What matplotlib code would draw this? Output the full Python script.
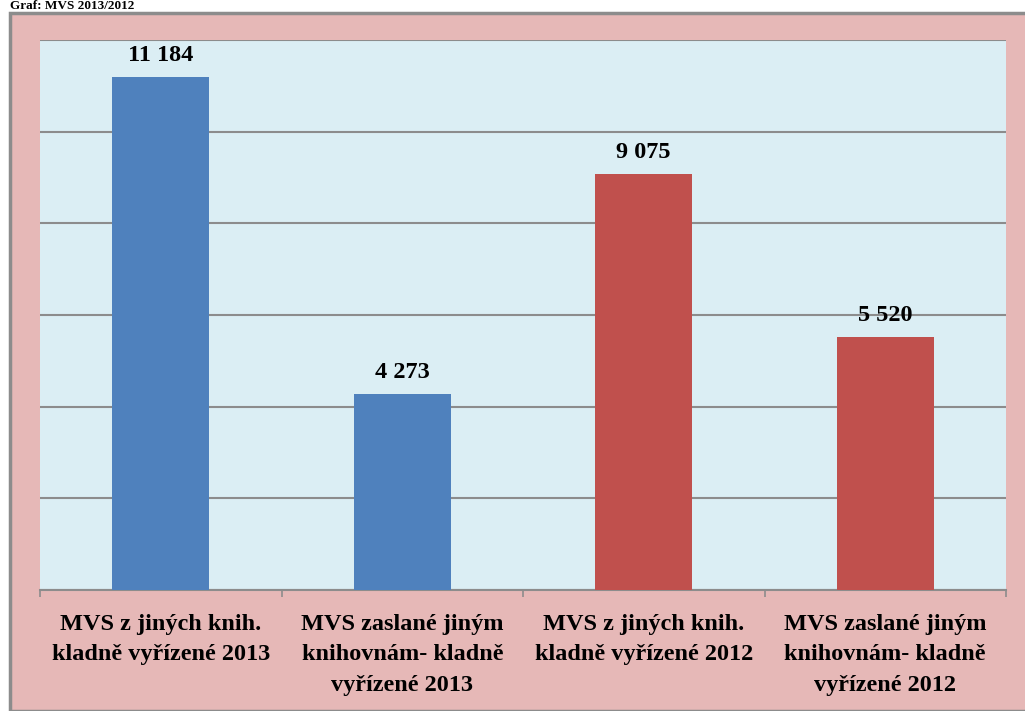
import numpy as np
import matplotlib.pyplot as plt
from matplotlib.patches import Rectangle

# data
kategorie = ['MVS z jiných knih.\nkladně vyřízené 2013',
             'MVS zaslané jiným\nknihovnám- kladně\nvyřízené 2013',
             'MVS z jiných knih.\nkladně vyřízené 2012',
             'MVS zaslané jiným\nknihovnám- kladně\nvyřízené 2012']
hodnoty = [11184, 4273, 9075, 5520]
barvy = ['#4f81bd', '#4f81bd', '#c0504d', '#c0504d']
popisky = ['11 184', '4 273', '9 075', '5 520']

plt.rcParams['font.family'] = ['Liberation Serif', 'DejaVu Serif']

fig = plt.figure(figsize=(10.25, 7.11), dpi=100)
fig.patch.set_facecolor('white')

# ruzovy ramecek grafu
fig.patches.append(Rectangle((10 / 1025, 0), 1.1, 1 - 13 / 711, transform=fig.transFigure,
                             facecolor='#e6b8b7', edgecolor='#8c8c8c', linewidth=2.5, zorder=-5))

fig.text(10 / 1025, 1.0, 'Graf: MVS 2013/2012', fontsize=9.5, fontweight='bold',
         ha='left', va='top')

ax = fig.add_axes([40 / 1025, 1 - 590 / 711, 966 / 1025, 550 / 711])
ax.set_facecolor('#dbeef4')

x = np.arange(len(hodnoty))
ax.bar(x, hodnoty, width=0.4, color=barvy, zorder=3)

for xi, h, t in zip(x, hodnoty, popisky):
    ax.text(xi, h + 250, t, ha='center', va='bottom', fontsize=17.5, fontweight='bold')

ax.set_xlim(-0.5, len(hodnoty) - 0.5)
ax.set_ylim(0, 12000)
ax.set_yticks(np.arange(0, 12001, 2000))
ax.set_yticklabels([])
ax.tick_params(axis='y', length=0)
ax.grid(axis='y', color='#8c8c8c', linewidth=1.5, zorder=1)

ax.set_xticks(x)
ax.set_xticklabels(kategorie, fontsize=17.5, fontweight='bold', linespacing=1.6)
ax.tick_params(axis='x', length=0, pad=17)
ax.set_xticks(np.arange(-0.5, len(hodnoty)), minor=True)
ax.tick_params(axis='x', which='minor', length=5, color='#8c8c8c', width=1.2)

for s in ['top', 'right', 'left']:
    ax.spines[s].set_visible(False)
ax.spines['bottom'].set_color('#8c8c8c')
ax.spines['bottom'].set_linewidth(1.5)

fig.savefig('out.png', dpi=100)
